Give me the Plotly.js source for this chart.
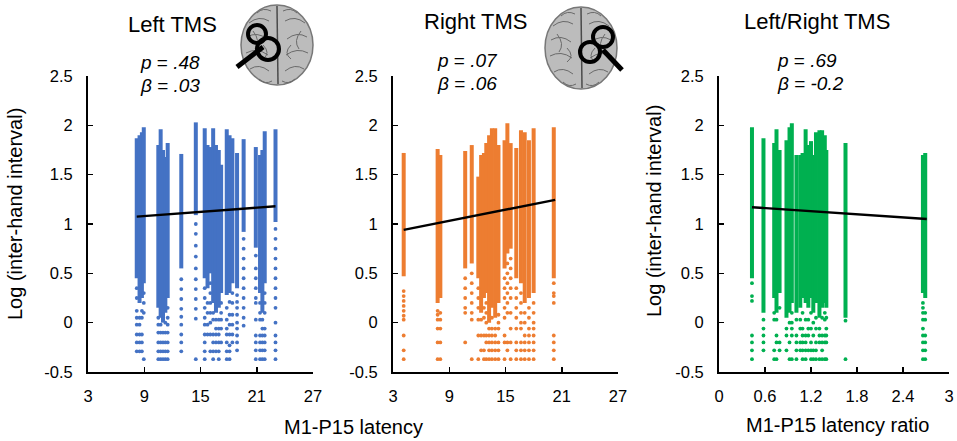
<!DOCTYPE html>
<html>
<head>
<meta charset="utf-8">
<script src="https://cdn.plot.ly/plotly-3.0.1.min.js"></script>
<style>
  html, body { margin: 0; padding: 0; background: #fff; }
  #plot { width: 957px; height: 441px; }
</style>
</head>
<body>
<div id="plot"></div>
<script>
// ---- data ----
// each column: x, top of the solid part, bottom of the solid part, loose dots below it

// Left TMS
var leftX   = [8.2, 8.5, 8.75, 8.95, 10.5, 10.75, 11.0, 11.25, 11.5, 12.95, 14.5, 15.45, 15.75, 16.05, 16.35, 16.65, 16.95, 17.2, 17.8, 18.1, 18.4, 18.9, 19.6, 20.9, 21.35, 21.6, 21.85, 23.0]
var leftTop = [1.87, 1.9, 1.93, 1.98, 1.8, 1.96, 1.75, 1.68, 1.82, 1.71, 2.03, 1.97, 1.8, 1.78, 1.97, 1.8, 1.75, 1.6, 1.96, 1.9, 1.87, 1.72, 1.86, 1.78, 1.7, 1.75, 1.94, 1.96]
var leftLow = [0.45, 0.2, 0.25, 0.4, 0.15, 0.05, 0.0, 0.1, 0.25, 0.55, 1.09, 0.45, 0.35, 0.5, 0.2, 0.1, 0.15, 0.3, 0.28, 0.3, 0.4, 0.35, 0.92, 0.76, 0.3, 0.1, 0.4, 1.02]
var leftDots = [
  [0.35, 0.25, 0.12, 0.05, -0.02, -0.12, -0.2, -0.29],
  [0.05, -0.02, -0.12, -0.2, -0.29],
  [0.12, 0.05, -0.12, -0.2, -0.29],
  [0.3, 0.2, 0.1, -0.37],
  [0.05, -0.02, -0.1, -0.2, -0.29, -0.37],
  [-0.02, -0.1, -0.2, -0.29, -0.37],
  [-0.1, -0.2, -0.29, -0.37],
  [0.0, -0.1, -0.2, -0.29, -0.37],
  [0.15, 0.05, -0.02, -0.1, -0.2, -0.29, -0.37],
  [0.44, 0.34, 0.24, 0.14, 0.06, -0.02, -0.12, -0.2, -0.29],
  [1.0, 0.9, 0.78, 0.67, 0.55, 0.44, 0.34, 0.24, 0.14, 0.04, -0.37],
  [0.35, 0.25, 0.15, 0.05, -0.02, -0.12, -0.2, -0.29, -0.37],
  [0.2, 0.1, -0.02, -0.12],
  [0.4, 0.3, 0.2, 0.1, 0.0, -0.12, -0.29],
  [0.1, 0.03, -0.12, -0.2, -0.29, -0.37],
  [0.03, -0.06, -0.12, -0.2, -0.29],
  [0.03, -0.06, -0.12, -0.2, -0.29, -0.37],
  [0.2, 0.1, 0.03, -0.06, -0.2],
  [0.15, 0.03, -0.06, -0.12, -0.2, -0.29, -0.37],
  [0.21, 0.08, -0.02, -0.12, -0.23, -0.29, -0.37],
  [0.3, 0.2, 0.08, -0.02, -0.12, -0.2],
  [0.28, 0.21, 0.15, 0.08, 0.0, -0.06, -0.13, -0.2, -0.28],
  [0.85, 0.75, 0.65, 0.55, 0.45, 0.35, 0.25, 0.15, 0.05, -0.03],
  [0.68, 0.55, 0.45, 0.35, 0.25, 0.2, 0.03, -0.13, -0.2, -0.28, -0.37],
  [0.2, 0.1, 0.03, -0.13, -0.2, -0.28, -0.37],
  [0.03, -0.06, -0.13, -0.2, -0.28, -0.37],
  [0.3, 0.2, 0.1, -0.06, -0.13, -0.2, -0.28, -0.37],
  [0.95, 0.85, 0.75, 0.65, 0.55, 0.45, 0.35, 0.25, 0.15, 0.0, -0.13, -0.2, -0.28, -0.37]
]
var leftFitX = [8.2, 23.0]
var leftFitY = [1.075, 1.18]

// Right TMS
var rightX   = [4.14, 7.76, 8.05, 10.7, 11.4, 12.1, 12.4, 12.7, 12.95, 13.25, 13.55, 13.9, 14.25, 14.9, 15.2, 15.55, 16.15, 16.65, 17.05, 17.5, 18.0, 20.15]
var rightTop = [1.72, 1.76, 1.7, 1.74, 1.8, 1.48, 1.7, 1.72, 1.82, 1.9, 1.97, 1.97, 1.8, 1.85, 2.02, 1.82, 1.77, 1.95, 1.93, 1.85, 1.97, 1.98]
var rightLow = [0.47, 0.2, 0.25, 0.55, 0.6, 0.45, 0.1, 0.25, 0.3, 0.0, 0.15, 0.05, 0.2, 0.55, 0.7, 0.75, 0.45, 0.4, 0.2, 0.25, 0.3, 0.45]
var rightDots = [
  [0.32, 0.27, 0.22, 0.17, 0.12, 0.07, 0.03, -0.13, -0.28, -0.37],
  [0.12, 0.08, 0.03, -0.06, -0.2, -0.37],
  [0.1, 0.03, -0.06, -0.2, -0.37],
  [0.45, 0.35, 0.25, 0.15, 0.1, -0.2],
  [0.5, 0.4, 0.3, 0.2, 0.1, 0.03, -0.37],
  [0.35, 0.25, 0.15, 0.03, -0.13, -0.37],
  [0.03, -0.13, -0.28],
  [0.15, 0.05, -0.13, -0.28, -0.37],
  [0.2, 0.1, 0.0, -0.13, -0.2, -0.37],
  [-0.06, -0.13, -0.2, -0.28, -0.37],
  [0.05, -0.06, -0.13, -0.2, -0.28, -0.37],
  [-0.06, -0.13, -0.2, -0.28, -0.37],
  [0.08, 0.0, -0.06, -0.2, -0.28, -0.37],
  [0.45, 0.35, 0.25, 0.15, 0.05, -0.13, -0.2, -0.37],
  [0.6, 0.5, 0.4, 0.3, 0.2, 0.1, -0.2, -0.28],
  [0.65, 0.55, 0.45, 0.35, 0.25, 0.1, -0.06, -0.2, -0.37],
  [0.35, 0.25, 0.15, 0.05, -0.06, -0.2, -0.28, -0.37],
  [0.3, 0.2, 0.1, 0.0, -0.06, -0.2, -0.28, -0.37],
  [0.1, 0.0, -0.13, -0.2, -0.28, -0.37],
  [0.15, 0.05, -0.06, -0.13, -0.2, -0.28, -0.37],
  [0.2, 0.1, 0.0, -0.06, -0.13, -0.2, -0.28, -0.37],
  [0.4, 0.3, 0.27, 0.2, -0.13, -0.2, -0.28, -0.37]
]
var rightFitX = [4.14, 20.3]
var rightFitY = [0.94, 1.245]

// Left/Right TMS (ratio)
var ratioX   = [0.43, 0.58, 0.72, 0.75, 0.79, 0.88, 0.92, 0.95, 1.01, 1.06, 1.09, 1.13, 1.165, 1.2, 1.23, 1.265, 1.31, 1.345, 1.38, 1.4, 1.65, 2.66, 2.69]
var ratioTop = [1.98, 1.87, 1.82, 1.96, 1.75, 1.85, 1.98, 2.02, 1.7, 1.7, 1.72, 1.96, 1.8, 1.84, 1.7, 1.93, 1.95, 1.95, 1.9, 1.75, 1.82, 1.7, 1.72]
var ratioLow = [0.45, 0.1, 0.25, 0.1, 0.3, 0.05, 0.1, 0.2, 0.1, 0.15, 0.25, 0.2, 0.15, 0.25, 0.1, 0.2, 0.05, 0.15, 0.2, 0.15, 0.05, 0.3, 0.25]
var ratioDots = [
  [0.4, 0.27, 0.22, -0.13, -0.2, -0.28, -0.37],
  [0.03, -0.06, -0.13, -0.2, -0.28],
  [0.1, 0.03, -0.28, -0.37],
  [0.03, -0.13, -0.2, -0.37],
  [0.15, -0.2, -0.28],
  [-0.06, -0.13, -0.28],
  [0.0, -0.2, -0.37],
  [0.1, 0.0, -0.06, -0.13, -0.37],
  [0.03, -0.13, -0.2, -0.28, -0.37],
  [0.03, -0.06, -0.2, -0.28],
  [0.1, -0.06, -0.13, -0.2, -0.28, -0.37],
  [0.03, -0.13, -0.2, -0.28, -0.37],
  [0.03, -0.06, -0.13, -0.28],
  [0.1, -0.06, -0.2, -0.28, -0.37],
  [0.0, -0.13, -0.28, -0.37],
  [0.05, -0.06, -0.2, -0.28, -0.37],
  [-0.06, -0.13, -0.2, -0.37],
  [0.05, -0.13, -0.2, -0.28, -0.37],
  [0.1, 0.03, -0.13, -0.2, -0.37],
  [0.05, -0.06, -0.13, -0.2, -0.37],
  [0.02, -0.37],
  [0.2, 0.15, 0.1, 0.03, -0.06, -0.13, -0.2, -0.28, -0.37],
  [0.1, 0.03, -0.13, -0.2, -0.28, -0.37]
]
var ratioFitX = [0.43, 2.71]
var ratioFitY = [1.17, 1.05]

var yTicks = [-0.5, 0, 0.5, 1, 1.5, 2, 2.5]
var yTickText = ["-0.5", "0", "0.5", "1", "1.5", "2", "2.5"]
var latencyTicks = [3, 9, 15, 21, 27]
var ratioTicks = [0, 0.6, 1.2, 1.8, 2.4, 3]
var ratioTickText = ["0", "0.6", "1.2", "1.8", "2.4", "3"]

var blue = "#4472c4"
var orange = "#ed7d31"
var green = "#00b050"

// ---- helpers ----
var W = 957, H = 441
function px(x){ return x / W }
function py(y){ return 1 - y / H }

function panelTraces(xs, tops, lows, dots, fitX, fitY, color, xa, ya){
    let lx = [], ly = []
    let dx = [], dy = []
    for (let i = 0; i < xs.length; i++){
        lx.push(xs[i], xs[i], null)
        ly.push(lows[i], tops[i], null)
        for (let v of dots[i]){
            dx.push(xs[i])
            dy.push(v)
        }
    }
    return [
        {x: lx, y: ly, xaxis: xa, yaxis: ya, type: "scatter", mode: "lines",
         line: {color: color, width: 4}, hoverinfo: "skip", showlegend: false},
        {x: dx, y: dy, xaxis: xa, yaxis: ya, type: "scatter", mode: "markers",
         marker: {color: color, size: 3.8}, showlegend: false},
        {x: fitX, y: fitY, xaxis: xa, yaxis: ya, type: "scatter", mode: "lines",
         line: {color: "black", width: 2.4}, showlegend: false}
    ]
}

var data = []
    .concat(panelTraces(leftX, leftTop, leftLow, leftDots, leftFitX, leftFitY, blue, "x", "y"))
    .concat(panelTraces(rightX, rightTop, rightLow, rightDots, rightFitX, rightFitY, orange, "x2", "y2"))
    .concat(panelTraces(ratioX, ratioTop, ratioLow, ratioDots, ratioFitX, ratioFitY, green, "x3", "y3"))

var font = "Arial, 'Liberation Sans', sans-serif"

function xAxis(dom, anchor, range, vals, text){
    let ax = {
        domain: dom, anchor: anchor, range: range,
        showgrid: false, zeroline: false, showline: true,
        linecolor: "black", linewidth: 2,
        ticks: "inside", ticklen: 5, tickwidth: 1.5, tickcolor: "black",
        tickvals: vals, ticklabelstandoff: 8,
        tickfont: {family: font, size: 16.5, color: "black"},
        fixedrange: true
    }
    if (text) ax.ticktext = text
    return ax
}
function yAxis(anchor){
    return {
        domain: [py(372), py(76)], anchor: anchor, range: [-0.5, 2.5],
        showgrid: false, zeroline: false, showline: true,
        linecolor: "black", linewidth: 2,
        ticks: "inside", ticklen: 5, tickwidth: 1.5, tickcolor: "black",
        tickvals: yTicks, ticktext: yTickText, ticklabelstandoff: 10,
        tickfont: {family: font, size: 16.5, color: "black"},
        fixedrange: true
    }
}

function txt(x, y, s, size, opts){
    let a = {
        xref: "paper", yref: "paper", x: px(x), y: py(y),
        text: s, showarrow: false, xanchor: "center", yanchor: "middle",
        font: {family: font, size: size, color: "black"}
    }
    return Object.assign(a, opts || {})
}

var annotations = [
    txt(172, 25, "Left TMS", 22),
    txt(138, 62, "<i>p</i> = <i>.48</i>", 19, {xanchor: "left"}),
    txt(138, 85, "<i>β</i> = <i>.03</i>", 19, {xanchor: "left"}),
    txt(476, 22, "Right TMS", 22),
    txt(435, 60, "<i>p</i> = <i>.07</i>", 19, {xanchor: "left"}),
    txt(435, 83, "<i>β</i> = <i>.06</i>", 19, {xanchor: "left"}),
    txt(817, 22, "Left/Right TMS", 22),
    txt(775, 61, "<i>p</i> = <i>.69</i>", 19, {xanchor: "left"}),
    txt(775, 83, "<i>β</i> = <i>-0.2</i>", 19, {xanchor: "left"}),
    txt(353, 427, "M1-P15 latency", 20),
    txt(837, 425, "M1-P15 latency ratio", 20),
    txt(15, 214, "Log (inter-hand interval)", 20, {textangle: -90}),
    txt(654, 211, "Log (inter-hand interval)", 20, {textangle: -90})
]

// brain pictures with the figure-of-eight coil (decoration only)
// each fold: start x,y / control x,y / end x,y, offsets from the brain centre (left half, mirrored)
var folds = [
    [-28, -22, -18, -30, -8, -24], [-30, -8, -20, -14, -10, -6], [-31, 8, -20, 2, -9, 10],
    [-27, 24, -18, 18, -8, 26], [-20, -32, -14, -38, -6, -34], [-18, 34, -12, 40, -5, 36],
    [-24, -14, -16, -4, -22, 4], [-14, 14, -6, 8, -14, 0]
]
function brain(cx, cy, rx, ry){
    let list = [
        {type: "circle", xref: "paper", yref: "paper",
         x0: px(cx - rx), x1: px(cx + rx), y0: py(cy + ry), y1: py(cy - ry),
         fillcolor: "#bcbcbc", line: {color: "#777", width: 1.5}, layer: "above"}
    ]
    for (let side of [-1, 1]){
        for (let g of folds){
            let p = "M" + px(cx + side * Math.abs(g[0])) + "," + py(cy + g[1]) +
                    " Q" + px(cx + side * Math.abs(g[2])) + "," + py(cy + g[3]) +
                    " " + px(cx + side * Math.abs(g[4])) + "," + py(cy + g[5])
            list.push({type: "path", xref: "paper", yref: "paper", path: p,
                       line: {color: "#6a6a6a", width: 1}, layer: "above"})
        }
    }
    list.push({type: "path", xref: "paper", yref: "paper",
         path: "M" + px(cx) + "," + py(cy - ry + 1) + " L" + px(cx + 1) + "," + py(cy + ry - 1),
         line: {color: "#4a4a4a", width: 1.5}, layer: "above"})
    return list
}
function loop(cx, cy, r){
    return {type: "circle", xref: "paper", yref: "paper",
            x0: px(cx - r), x1: px(cx + r), y0: py(cy + r), y1: py(cy - r),
            line: {color: "black", width: 4}, layer: "above"}
}
function handle(x0, y0, x1, y1){
    return {type: "line", xref: "paper", yref: "paper",
            x0: px(x0), y0: py(y0), x1: px(x1), y1: py(y1),
            line: {color: "black", width: 5}, layer: "above"}
}

var shapes = []
    .concat(brain(277, 45, 36, 40))
    .concat([handle(263, 47, 237, 67), loop(257, 34, 9), loop(268, 49, 11)])
    .concat(brain(581, 48, 36, 41))
    .concat([handle(603, 50, 622, 70), loop(603, 37, 10), loop(590, 52, 10)])

var layout = {
    width: W, height: H,
    margin: {l: 0, r: 0, t: 0, b: 0},
    paper_bgcolor: "white", plot_bgcolor: "white",
    showlegend: false,
    xaxis:  xAxis([px(88), px(313)], "y", [3, 27], latencyTicks),
    yaxis:  yAxis("x"),
    xaxis2: xAxis([px(393), px(618)], "y2", [3, 27], latencyTicks),
    yaxis2: yAxis("x2"),
    xaxis3: xAxis([px(719), px(949)], "y3", [0, 3], ratioTicks, ratioTickText),
    yaxis3: yAxis("x3"),
    annotations: annotations,
    shapes: shapes
}

Plotly.newPlot("plot", data, layout, {displayModeBar: false, staticPlot: true})
</script>
</body>
</html>
